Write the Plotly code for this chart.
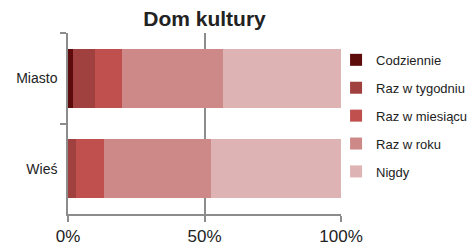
import plotly.graph_objects as go

categories = ["Miasto", "Wieś"]
series_names = ["Codziennie", "Raz w tygodniu", "Raz w miesiącu", "Raz w roku", "Nigdy"]
codziennie = [1.7, 0.0]
raz_w_tygodniu = [8.2, 2.9]
raz_w_miesiacu = [9.7, 10.3]
raz_w_roku = [37.1, 39.1]
nigdy = [43.3, 47.7]
series_values = [codziennie, raz_w_tygodniu, raz_w_miesiacu, raz_w_roku, nigdy]
colors = ["#5e0b0b", "#a0403f", "#bf504e", "#cc8988", "#ddb3b3"]
x_tick_vals = [0, 50, 100]
x_tick_text = ["0%", "50%", "100%"]

fig = go.Figure()
for name, vals, col in zip(series_names, series_values, colors):
    fig.add_trace(go.Bar(
        y=categories, x=vals, name=name, orientation="h",
        marker=dict(color=col, line=dict(width=0)),
        legendgroup=name,
    ))

axis_gray = "#8c8c8c"
fig.update_layout(
    width=472, height=245,
    margin=dict(l=68, r=131, t=33, b=31, autoexpand=False),
    barmode="stack", bargap=0.35,
    paper_bgcolor="white", plot_bgcolor="white",
    font=dict(family="Liberation Sans, Arial, sans-serif", color="#222222"),
    title=dict(text="<b>Dom kultury</b>", x=0.5, xref="paper", xanchor="center",
               y=1.0, yref="container", yanchor="top", pad=dict(t=11),
               font=dict(size=21, color="#222222")),
    legend=dict(xref="container", yref="container", x=0.712, xanchor="left",
                y=0.527, yanchor="middle", maxheight=400,
                traceorder="grouped", tracegroupgap=8,
                font=dict(size=13, color="#222222"), bgcolor="rgba(0,0,0,0)"),
    showlegend=True,
)
fig.update_xaxes(
    range=[0, 100], tickvals=x_tick_vals, ticktext=x_tick_text,
    showgrid=True, gridcolor=axis_gray, gridwidth=1.5,
    showline=True, linecolor=axis_gray, linewidth=1.5,
    ticks="outside", ticklen=6, tickcolor=axis_gray, tickwidth=1.5,
    zeroline=False, tickfont=dict(size=17, color="#222222"), automargin=False,
)
fig.update_yaxes(
    categoryorder="array", categoryarray=categories, autorange="reversed",
    showline=True, linecolor=axis_gray, linewidth=1.5,
    ticks="outside", tickson="boundaries", ticklen=6, tickcolor=axis_gray, tickwidth=1.5,
    showgrid=False, zeroline=False, tickfont=dict(size=14, color="#222222"),
    ticklabelstandoff=6, automargin=False,
)
fig.write_html("out.html", config={"displayModeBar": False},
               post_script="document.body.style.margin='0';document.body.style.overflow='hidden';")
